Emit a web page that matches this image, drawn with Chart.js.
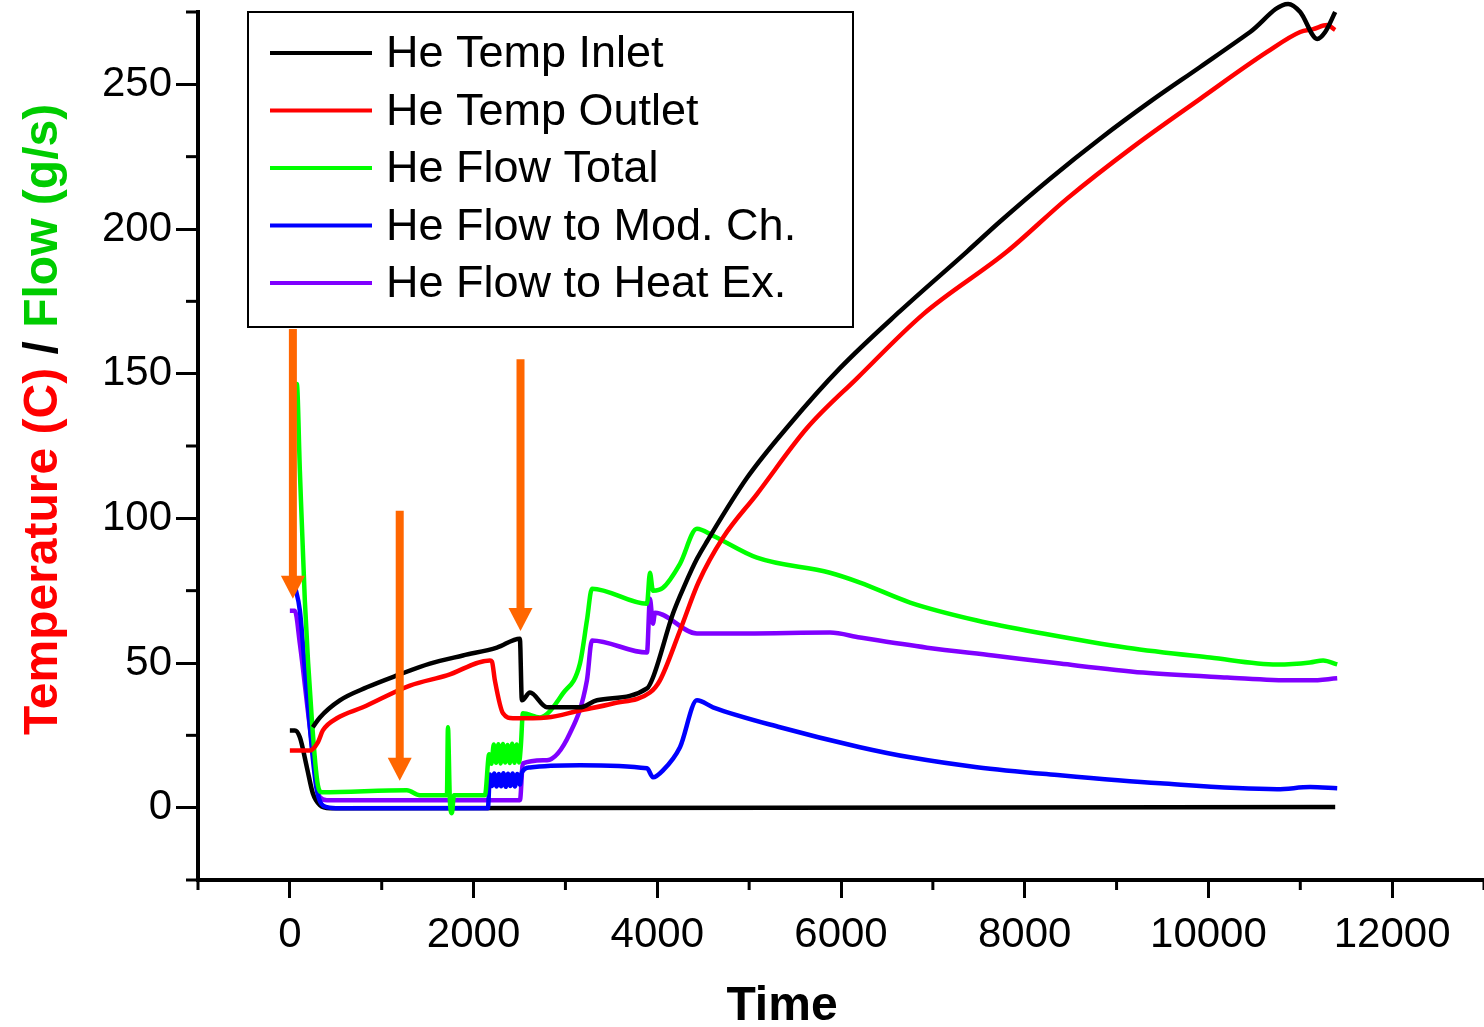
<!DOCTYPE html>
<html>
<head>
<meta charset="utf-8">
<script src="https://cdn.jsdelivr.net/npm/chart.js@4.4.1/dist/chart.umd.min.js"></script>
<style>
  body { margin: 0; background: #fff; }
  #wrap { width: 1484px; height: 1027px; }
</style>
</head>
<body>
<div id="wrap"><canvas id="chart" width="1484" height="1027"></canvas></div>
<script>
// axis ticks
const xTicks = [0, 2000, 4000, 6000, 8000, 10000, 12000];
const xMinor = [-1000, 1000, 3000, 5000, 7000, 9000, 11000, 13000];
const yTicks = [0, 50, 100, 150, 200, 250];
const yMinor = [-25, 25, 75, 125, 175, 225, 275];

// He Temp Inlet
const inletTime = [250, 327, 544, 838, 1165, 1525, 1884, 2254, 2504, 2526, 2614, 2799, 3158, 3343, 3888, 3953, 4171, 4300, 4432, 4541, 4977, 5445, 5989, 6643, 7372, 7732, 8276, 8821, 9365, 9910, 10454, 10868, 10999, 11184, 11271, 11380];
const inletTemp = [27.8, 31.2, 37.1, 41.6, 45.7, 49.8, 52.6, 55.3, 58.4, 37.1, 39.8, 34.7, 34.7, 37.1, 41.2, 45.0, 67.1, 77.0, 86.0, 92.0, 114.0, 132.6, 151.9, 171.6, 192.2, 202.6, 217.4, 231.2, 244.0, 256.0, 268.1, 277.8, 275.0, 265.7, 268.1, 275.0];

// black trace near zero (not in legend)
const baseTime = [0, 54, 109, 185, 250, 327, 436, 11380];
const baseTemp = [26.7, 26.7, 24.3, 14.0, 5.0, 0.9, -0.2, 0.2];

// He Temp Outlet
const outletTime = [0, 218, 305, 359, 512, 795, 1307, 1710, 2178, 2200, 2232, 2320, 2428, 2799, 3158, 3517, 3920, 4029, 4247, 4450, 4715, 5085, 5630, 6174, 6893, 7808, 8461, 9180, 9910, 10639, 10999, 11140, 11292, 11380];
const outletTemp = [19.8, 19.8, 22.6, 26.7, 30.9, 34.7, 42.2, 45.7, 50.9, 50.5, 44.0, 32.6, 30.9, 31.2, 33.6, 36.0, 39.8, 44.0, 61.2, 78.0, 93.3, 108.4, 131.2, 148.4, 170.5, 192.2, 210.5, 228.4, 245.0, 261.2, 268.1, 269.1, 270.5, 268.8];

// He Flow Total
const totalTime = [0, 76, 109, 163, 240, 305, 348, 1274, 1416, 1710, 1721, 1742, 1764, 1786, 2124, 2170, 2195, 2220, 2245, 2270, 2295, 2320, 2345, 2370, 2395, 2420, 2445, 2470, 2495, 2515, 2537, 2722, 2973, 3158, 3234, 3289, 3888, 3920, 3953, 4062, 4247, 4432, 4606, 5085, 5880, 6207, 6752, 7481, 8200, 9115, 10019, 10748, 11107, 11249, 11402];
const totalFlow = [146.4, 146.4, 116.4, 71.6, 30.2, 7.8, 5.3, 6.0, 4.3, 4.3, 27.8, 2.6, -1.9, 4.3, 4.3, 18.5, 15.2, 21.8, 15.5, 21.9, 15.3, 22.0, 15.6, 21.7, 15.4, 22.1, 15.5, 21.8, 15.6, 21.5, 32.6, 31.2, 39.5, 49.8, 64.7, 75.7, 70.5, 81.2, 75.0, 76.0, 84.3, 96.4, 94.0, 86.4, 81.2, 77.8, 70.9, 64.7, 60.2, 55.3, 51.9, 49.5, 50.2, 50.9, 49.5];

// He Flow to Mod. Ch.
const modTime = [54, 109, 185, 294, 403, 544, 2156, 2178, 2200, 2225, 2250, 2275, 2300, 2325, 2350, 2375, 2400, 2425, 2450, 2475, 2505, 2526, 2614, 3158, 3888, 3953, 4062, 4247, 4432, 4606, 5336, 6207, 6752, 7481, 8385, 9474, 10748, 11107, 11402];
const modFlow = [76.7, 68.1, 39.5, 6.0, 0.2, -0.2, -0.2, 11.5, 7.5, 11.8, 7.3, 11.6, 7.4, 11.9, 7.2, 11.7, 7.5, 11.8, 7.3, 11.6, 8.0, 12.2, 13.9, 14.7, 13.6, 10.5, 12.9, 20.9, 37.1, 34.7, 27.8, 20.9, 17.4, 14.0, 11.2, 8.4, 6.4, 7.1, 6.7];

// He Flow to Heat Ex.
const hexTime = [0, 54, 109, 218, 327, 403, 2505, 2537, 2799, 3049, 3234, 3289, 3888, 3920, 3953, 3975, 4432, 4977, 5880, 6207, 6937, 7656, 8385, 9289, 10204, 10922, 11107, 11402];
const hexFlow = [68.1, 68.1, 56.7, 27.8, 3.6, 2.6, 2.6, 15.3, 16.4, 25.7, 44.0, 57.8, 53.6, 72.2, 63.6, 67.4, 60.2, 60.2, 60.5, 58.8, 55.3, 52.6, 49.8, 46.7, 45.0, 44.0, 44.0, 44.7];

// orange arrows: x position, top value, tip value
const arrowX = [33, 1196, 2511];
const arrowTop = [165.4, 102.6, 155.0];
const arrowTip = [72.2, 9.3, 61.1];

const pts = (xs, ys) => xs.map((v, i) => ({ x: v, y: ys[i] }));

const series = [
    { label: 'He Temp Inlet', data: pts(inletTime, inletTemp), color: '#000000', legend: true },
    { label: 'He Temp Outlet', data: pts(outletTime, outletTemp), color: '#ff0000', legend: true },
    { label: 'He Flow Total', data: pts(totalTime, totalFlow), color: '#00ff00', legend: true },
    { label: 'He Flow to Mod. Ch.', data: pts(modTime, modFlow), color: '#0000ff', legend: true },
    { label: 'He Flow to Heat Ex.', data: pts(hexTime, hexFlow), color: '#8000ff', legend: true },
    { label: 'base', data: pts(baseTime, baseTemp), color: '#000000', legend: false }
];

const FONT = 'Arial, "Liberation Sans", sans-serif';

const decor = {
    id: 'decor',
    afterDatasetsDraw(chart) {
        const { ctx, scales: { x, y } } = chart;
        ctx.save();

        // minor ticks
        ctx.strokeStyle = '#000';
        ctx.lineWidth = 3;
        yMinor.forEach(v => {
            const py = y.getPixelForValue(v);
            ctx.beginPath(); ctx.moveTo(x.left - 12, py); ctx.lineTo(x.left, py); ctx.stroke();
        });
        xMinor.forEach(v => {
            const px = x.getPixelForValue(v);
            ctx.beginPath(); ctx.moveTo(px, y.bottom); ctx.lineTo(px, y.bottom + 10); ctx.stroke();
        });

        // arrows
        ctx.strokeStyle = '#ff6600';
        ctx.fillStyle = '#ff6600';
        ctx.lineWidth = 8;
        arrowX.forEach((v, i) => {
            const px = x.getPixelForValue(v);
            const top = y.getPixelForValue(arrowTop[i]);
            const tip = y.getPixelForValue(arrowTip[i]);
            ctx.beginPath(); ctx.moveTo(px, top); ctx.lineTo(px, tip - 20); ctx.stroke();
            ctx.beginPath();
            ctx.moveTo(px - 12, tip - 23); ctx.lineTo(px + 12, tip - 23); ctx.lineTo(px, tip);
            ctx.closePath(); ctx.fill();
        });

        // legend box
        ctx.fillStyle = '#fff';
        ctx.fillRect(248, 12, 605, 315);
        ctx.strokeStyle = '#000';
        ctx.lineWidth = 2;
        ctx.strokeRect(248, 12, 605, 315);
        ctx.font = '45px ' + FONT;
        ctx.textBaseline = 'middle';
        ctx.textAlign = 'left';
        series.filter(s => s.legend).forEach((s, i) => {
            const ly = 53 + i * 57.5;
            ctx.strokeStyle = s.color;
            ctx.lineWidth = 4;
            ctx.beginPath(); ctx.moveTo(270, ly); ctx.lineTo(372, ly); ctx.stroke();
            ctx.fillStyle = '#000';
            ctx.fillText(s.label, 386, ly + 2);
        });

        // y title, three colours
        ctx.save();
        ctx.translate(57, 735);
        ctx.rotate(-Math.PI / 2);
        ctx.font = 'bold 48px ' + FONT;
        ctx.textBaseline = 'alphabetic';
        let cx = 0;
        [['Temperature (C)', '#ff0000'], [' / ', '#000000'], ['Flow (g/s)', '#00cc00']].forEach(([t, c]) => {
            ctx.fillStyle = c;
            ctx.fillText(t, cx, 0);
            cx += ctx.measureText(t).width;
        });
        ctx.restore();

        // x title
        ctx.fillStyle = '#000';
        ctx.font = 'bold 48px ' + FONT;
        ctx.textAlign = 'center';
        ctx.textBaseline = 'alphabetic';
        ctx.fillText('Time', 782, 1020);

        ctx.restore();
    }
};

new Chart(document.getElementById('chart'), {
    type: 'scatter',
    data: {
        datasets: series.map(s => ({
            label: s.label,
            data: s.data,
            showLine: true,
            borderColor: s.color,
            backgroundColor: s.color,
            borderWidth: 4.5,
            pointRadius: 0,
            cubicInterpolationMode: 'monotone',
            clip: false
        }))
    },
    options: {
        responsive: false,
        animation: false,
        layout: { padding: { top: 12, right: 0, left: 0, bottom: 0 } },
        plugins: { legend: { display: false }, tooltip: { enabled: false } },
        scales: {
            x: {
                type: 'linear',
                min: -1000,
                max: 13000,
                afterBuildTicks: s => { s.ticks = xTicks.map(v => ({ value: v })); },
                afterFit: s => { s.height = 147; s.paddingLeft = 0; s.paddingRight = 0; },
                border: { display: true, width: 4, color: '#000' },
                grid: { drawOnChartArea: false, drawTicks: true, tickLength: 18, tickWidth: 3, tickColor: '#000' },
                ticks: { color: '#000', font: { family: FONT, size: 42 }, padding: 12, maxRotation: 0, callback: v => String(v) }
            },
            y: {
                type: 'linear',
                min: -25,
                max: 275,
                afterBuildTicks: s => { s.ticks = yTicks.map(v => ({ value: v })); },
                afterFit: s => { s.width = 198; s.paddingTop = 0; s.paddingBottom = 0; },
                border: { display: true, width: 4, color: '#000' },
                grid: { drawOnChartArea: false, drawTicks: true, tickLength: 22, tickWidth: 3, tickColor: '#000' },
                ticks: { color: '#000', font: { family: FONT, size: 42 }, padding: 4, callback: v => String(v) }
            }
        }
    },
    plugins: [decor]
});
</script>
</body>
</html>
